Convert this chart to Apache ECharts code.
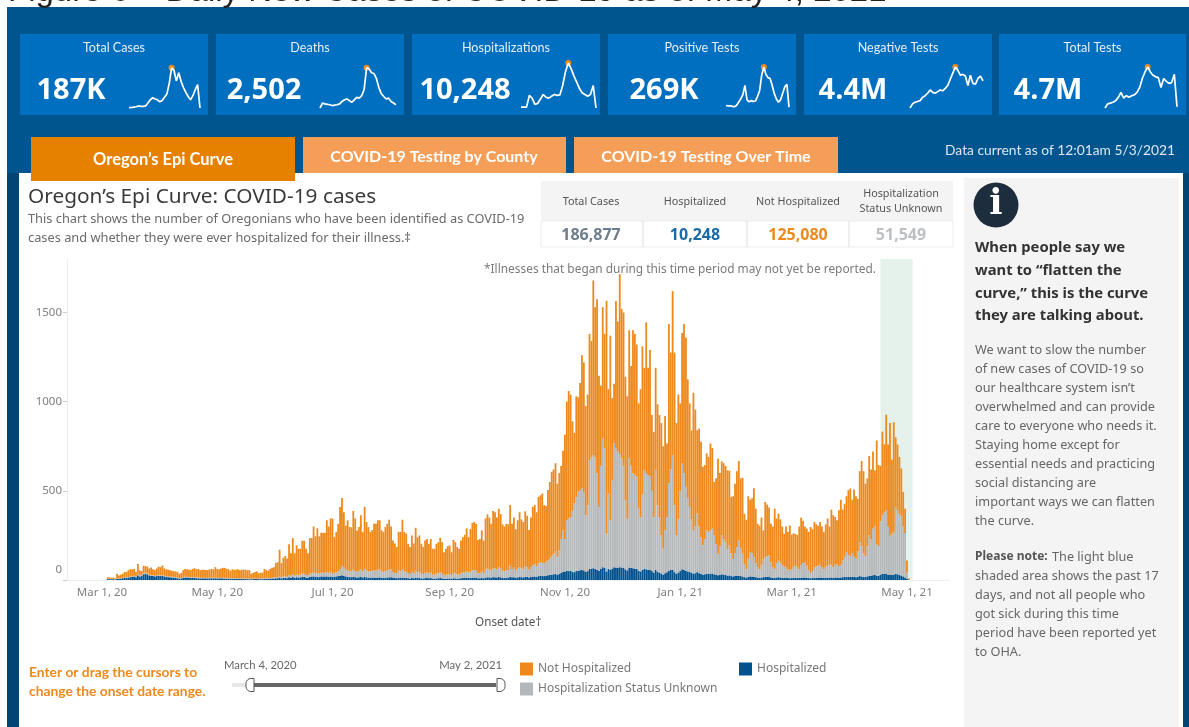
<!DOCTYPE html>
<html><head><meta charset="utf-8">
<style>html,body{margin:0;padding:0;background:#fff}#c{width:1189px;height:727px}</style>
<script src="https://cdn.jsdelivr.net/npm/echarts@6/dist/echarts.min.js"></script></head>
<body><div id="c"></div>
<script>
// ---- daily stacked tops, month by month (Mar 4 2020 - May 2 2021)
const allCases = [
 /*Mar20*/15,15,12,14,10,35,25,30,35,45,45,55,60,60,62,45,90,55,50,80,78,75,65,70,60,55,65,75,
 /*Apr20*/72,82,65,60,58,55,52,50,48,45,35,40,55,62,60,58,56,62,66,60,62,55,58,58,56,56,60,62,60,72,
 /*May20*/62,60,65,68,68,62,60,52,60,58,58,60,55,58,58,58,55,55,35,40,45,48,38,40,42,62,55,52,62,68,72,
 /*Jun20*/95,100,170,95,125,135,120,200,150,235,150,195,175,175,220,220,175,150,235,235,300,245,290,245,265,265,265,335,300,345,
 /*Jul20*/345,240,270,315,410,460,380,305,335,297,295,387,345,278,297,363,270,410,325,297,270,280,315,315,335,335,278,270,297,315,338,
 /*Aug20*/300,222,205,185,270,270,338,270,260,203,185,250,205,293,240,250,203,185,222,230,203,230,175,175,203,212,237,212,156,175,190,
 /*Sep20*/193,156,225,212,185,175,222,240,253,290,240,285,320,325,315,225,230,278,222,345,368,350,315,387,380,350,400,370,312,300,
 /*Oct20*/315,312,420,315,350,285,335,380,340,325,385,360,280,350,410,420,380,466,475,485,420,415,505,550,607,620,655,540,600,640,725,
 /*Nov20*/815,1000,1060,1040,890,825,1030,1025,1105,1260,1220,975,1040,1380,1340,1680,1530,1575,1145,1090,1530,1380,1565,1070,1370,1020,1100,1565,1450,1715,
 /*Dec20*/1520,1500,1140,1030,1400,1200,1400,1380,1320,990,1070,1310,1190,1445,1190,1290,925,830,1190,985,925,880,750,920,765,1435,1275,1620,1275,880,1040,
 /*Jan21*/990,1385,1435,1360,1125,990,838,1050,955,840,850,775,635,645,710,690,765,740,550,570,680,600,665,655,640,615,613,466,470,540,610,
 /*Feb21*/667,570,573,372,338,470,450,458,515,400,315,305,350,278,438,423,406,316,300,400,344,372,340,300,260,300,270,306,
 /*Mar21*/255,262,258,252,300,350,332,300,288,270,297,285,325,312,305,325,300,270,312,345,300,395,363,353,335,391,450,395,428,470,504,
 /*Apr21*/513,450,507,470,455,610,667,610,540,570,695,620,720,615,782,645,640,832,760,927,760,880,675,885,800,760,690,626,494,400,
 /*May21*/109,10];
const hospitalizedOrUnknown = [
 6,6,5,6,4,8,8,10,12,14,15,16,20,22,24,20,35,25,26,38,40,38,30,28,26,24,26,28,
 26,28,24,22,20,20,18,18,16,14,10,12,16,18,18,16,14,16,16,14,14,12,12,14,12,12,12,14,12,14,
 12,12,13,12,12,10,10,8,10,10,10,10,9,9,9,9,8,8,6,7,8,8,7,7,8,10,10,9,10,12,14,
 15,16,22,16,20,22,18,28,24,32,24,30,28,30,36,35,28,26,36,38,42,40,38,36,40,42,40,44,40,46,
 34,40,42,50,62,77,70,58,52,50,48,58,50,46,52,60,48,62,54,50,48,50,54,52,58,60,48,46,50,54,58,
 60,44,40,38,52,50,60,48,46,38,34,46,38,52,44,46,36,34,40,42,38,42,30,30,36,38,42,36,26,30,32,
 34,26,40,36,32,30,38,42,44,50,42,48,54,56,52,38,40,48,38,58,64,60,54,66,64,60,72,64,52,50,
 54,56,80,62,68,54,64,72,66,62,76,72,58,70,82,88,76,94,100,96,92,104,110,120,135,147,160,130,165,230,278,
 230,335,345,353,390,430,465,495,505,513,490,362,420,673,690,700,690,600,410,640,795,740,260,485,335,560,767,740,720,705,
 682,640,447,344,682,640,598,590,580,400,353,480,617,600,588,580,500,353,617,420,353,250,175,280,353,541,620,700,420,250,344,
 500,654,600,522,460,410,340,278,300,372,300,240,194,230,278,270,280,288,250,200,147,190,250,230,212,175,194,150,118,150,184,
 222,180,147,90,60,120,156,150,130,95,70,60,85,115,128,132,137,100,72,60,95,109,100,85,75,70,60,53,
 60,75,80,70,60,85,95,100,80,55,40,50,70,78,80,86,70,60,75,80,88,85,72,85,88,78,85,110,130,156,140,
 135,150,130,120,160,212,190,150,135,190,250,230,288,300,200,190,330,363,380,391,300,250,260,270,410,390,372,360,300,260,
 40,4];
const hospitalized = [
 5,5,4,5,3,6,6,8,10,12,12,14,16,18,20,15,26,20,22,32,34,32,26,24,22,20,22,24,
 22,24,20,18,16,16,14,14,12,10,8,9,13,14,14,12,11,12,12,10,10,9,9,10,9,9,9,10,9,10,
 9,9,10,8,8,7,7,6,7,7,7,7,6,6,6,6,5,5,4,5,5,5,5,5,5,7,7,6,7,8,9,
 10,10,14,9,12,12,10,15,13,17,12,16,14,15,18,18,14,12,18,20,20,19,18,16,20,20,19,20,18,20,
 18,18,20,22,24,26,24,20,18,16,16,18,16,14,15,17,14,17,15,14,13,14,14,13,14,15,12,12,13,14,15,
 15,12,11,10,13,12,14,12,11,10,9,12,10,13,11,12,9,9,10,11,10,11,8,8,9,10,11,9,7,8,8,
 9,7,10,9,8,8,10,11,11,13,11,12,13,14,13,10,10,12,10,14,15,15,13,16,15,14,17,15,12,12,
 13,14,18,15,16,13,15,17,16,15,18,17,14,17,19,20,18,22,24,22,22,24,26,28,30,32,34,28,34,40,46,
 48,52,50,52,46,44,50,52,54,56,54,46,50,62,64,66,62,58,50,62,72,68,48,62,56,64,72,70,68,72,
 70,68,60,54,70,68,66,64,62,52,48,56,62,60,58,56,50,42,56,46,42,36,30,38,44,52,56,58,44,36,42,
 50,60,58,52,48,46,40,36,38,44,38,34,30,32,36,35,36,36,32,30,26,28,32,30,28,24,26,22,20,22,24,
 24,22,20,16,14,18,20,20,18,16,14,12,14,16,18,18,18,14,12,12,14,16,14,13,12,12,11,10,
 11,12,13,12,11,13,14,14,13,11,10,11,12,13,13,14,12,11,12,13,14,14,13,14,14,13,14,16,17,18,17,
 17,18,17,16,18,22,20,18,17,20,24,22,26,28,24,24,30,34,34,36,30,28,28,30,34,32,28,24,20,14,
 6,2];
const tickDates = ['2020-03-01','2020-05-01','2020-07-01','2020-09-01','2020-11-01','2021-01-01','2021-03-01','2021-05-01'];
const tickLabels = ['Mar 1, 20','May 1, 20','Jul 1, 20','Sep 1, 20','Nov 1, 20','Jan 1, 21','Mar 1, 21','May 1, 21'];
const yTicks = [0,500,1000,1500];
const recentFrom = '2021-04-17', recentTo = '2021-05-04';

// ---- sparkline shapes (relative height 0-100)
const sparkCases = [1,1,2,3,5,4,4,5,12,20,25,22,20,15,18,26,34,60,98,92,66,86,65,50,38,28,20,30,45,57,0];
const sparkDeaths = [0,12,10,9,8,6,7,8,10,16,20,22,18,14,20,26,24,30,45,98,96,86,84,72,50,35,28,22,24,16,12,8];
const sparkHosp = [2,2,2,28,22,8,10,20,30,24,22,26,30,28,29,50,80,100,88,72,58,44,34,30,26,30,50,0];
const sparkPos = [6,5,5,4,3,6,14,22,32,55,20,15,18,16,17,28,42,80,100,82,74,72,55,35,22,14,20,36,52,58,2];
const sparkNeg = [0,10,14,16,18,26,30,36,44,38,36,40,44,42,48,55,70,85,100,92,80,82,78,55,80,60,58,72,78,66];
const sparkTests = [0,10,12,14,18,26,38,24,30,26,30,32,38,50,72,88,100,88,80,76,74,50,72,65,60,62,82,3];

const cardTitles = ['Total Cases','Deaths','Hospitalizations','Positive Tests','Negative Tests','Total Tests'];
const cardValues = ['187K','2,502','10,248','269K','4.4M','4.7M'];
const sparks = [sparkCases,sparkDeaths,sparkHosp,sparkPos,sparkNeg,sparkTests];
const tabLabels = ["Oregon’s Epi Curve",'COVID-19 Testing by County','COVID-19 Testing Over Time'];
const tableHeads = [['Total Cases'],['Hospitalized'],['Not Hospitalized'],['Hospitalization','Status Unknown']];
const tableValues = ['186,877','10,248','125,080','51,549'];
const legendNames = ['Not Hospitalized','Hospitalization Status Unknown','Hospitalized'];
const sideHead = ['When people say we','want to “flatten the','curve,” this is the curve','they are talking about.'];
const sideBody = ['We want to slow the number','of new cases of COVID-19 so','our healthcare system isn’t','overwhelmed and can provide','care to everyone who needs it.','Staying home except for','essential needs and practicing','social distancing are','important ways we can flatten','the curve.'];
const sideNote = ['days, and not all people who','got sick during this time','period have been reported yet','to OHA.'];

// ---- layout
const F = '"Noto Sans", sans-serif', FB = 'Lato, "Noto Sans", sans-serif';
const ORANGE='#EE8A1D', GREY='#B5B8BA', BLUE='#00528F', NAVY='#00558F', DARK='#004574', CARD='#006FBF';
const cardBox = [[20,208],[216,404],[412,600],[608,796],[804,992],[999,1186]];
const valueX = [71,264,465,664,853,1048];
const sparkBox = [[129,200,67],[320,396,67],[521,596,63],[726,789,67],[910,983,67],[1105,1177,67]];

// days on the category axis
const days=[]; {const d=new Date(Date.UTC(2020,1,12)); for(let i=0;i<467;i++){days.push(d.toISOString().slice(0,10)); d.setUTCDate(d.getUTCDate()+1);} }
const startIdx = days.indexOf('2020-03-04');
const pad = a => days.map((_,i)=> (i>=startIdx && i-startIdx<a.length) ? a[i-startIdx] : null);
const notHospitalized = allCases.map((v,i)=>Math.max(0,v-hospitalizedOrUnknown[i]));
const unknown = hospitalizedOrUnknown.map((v,i)=>v-hospitalized[i]);

const T=(x,y,text,size,fill,opt={})=>({type:'text',x,y,silent:true,z:opt.z||5,style:{text,fill,font:`${opt.weight||'normal'} ${size}px ${opt.font||F}`,align:opt.align||'left',verticalAlign:'middle'}});
const R=(x,y,w,h,fill,z=1,extra={},r=0)=>({type:'rect',silent:true,z,shape:{x,y,width:w,height:h,r},style:Object.assign({fill},extra)});
const L=(x1,y1,x2,y2,stroke,lineWidth=1,z=3)=>({type:'line',silent:true,z,shape:{x1,y1,x2,y2},style:{stroke,lineWidth}});

const g=[];
g.push(T(8,-8.5,'Figure 6 – Daily New Cases of COVID-19 as of May 4, 2021',33,'#222',{font:'"Liberation Sans",sans-serif',z:0}));
g.push(R(7,7,1182,166,NAVY,1));
g.push(R(7,173,12,554,DARK,1));
g.push(R(1183,173,6,554,DARK,1));
cardBox.forEach((b,i)=>{
  g.push(R(b[0],34,b[1]-b[0],81,CARD,2));
  g.push(T((b[0]+b[1])/2,47.5,cardTitles[i],12.6,'#E4EEF7',{align:'center',font:FB}));
  g.push(T(valueX[i],91,cardValues[i],29,'#fff',{align:'center',weight:'bold',font:'"Open Sans",sans-serif'}));
});
g.push(R(31,137,264,44,'#E68100',3));
g.push(R(303,137,263,36,'#F59E58',2));
g.push(R(574,137,264,36,'#F59E58',2));
g.push(T(163,160,tabLabels[0],16.5,'#fff',{align:'center',weight:'bold',font:FB,z:4}));
g.push(T(434,157,tabLabels[1],16,'#fff',{align:'center',weight:'bold',font:FB,z:4}));
g.push(T(706,157,tabLabels[2],16,'#fff',{align:'center',weight:'bold',font:FB,z:4}));
g.push(T(1060,151,'Data current as of 12:01am 5/3/2021',13.8,'#DCE7F1',{align:'center',font:FB}));
// headline
g.push(T(28,197,'Oregon’s Epi Curve: COVID-19 cases',20.8,'#3A3A3A'));
g.push(T(28,219,'This chart shows the number of Oregonians who have been identified as COVID-19',12.8,'#6A6A6A'));
g.push(T(28,238,'cases and whether they were ever hospitalized for their illness.‡',12.8,'#6A6A6A'));
// table
g.push(R(541,181,412,40,'#F4F4F4',2));
g.push(R(541,221,412,26,'#fff',2,{stroke:'#EDEDED',lineWidth:1}));
[643,747,849].forEach(x=>g.push(L(x,221,x,247,'#DDDDDD')));
const colX=[591,695,798,901], colC=['#6E7D8C','#1B6AA5','#EE8A1D','#BDC0C2'];
tableHeads.forEach((h,i)=>{
  if(h.length===1) g.push(T(colX[i],202,h[0],10.8,'#555',{align:'center'}));
  else { g.push(T(colX[i],194,h[0],10.8,'#555',{align:'center'})); g.push(T(colX[i],209,h[1],10.8,'#555',{align:'center'})); }
  g.push(T(colX[i],235,tableValues[i],16,colC[i],{align:'center',weight:'bold'}));
});
g.push(T(876,270,'*Illnesses that began during this time period may not yet be reported.',11.9,'#7A7A7A',{align:'right',z:6}));
// side panel
g.push(R(964,178,215,549,'#F4F4F4',1));
g.push({type:'circle',silent:true,z:3,shape:{cx:996,cy:205,r:22.5},style:{fill:'#1E2D3D'}});
g.push(T(996,205,'i',35,'#fff',{align:'center',weight:'bold',font:'"DejaVu Serif",serif',z:4}));
sideHead.forEach((t,i)=>g.push(T(975,248+i*22.7,t,14.8,'#333',{weight:'bold'})));
sideBody.forEach((t,i)=>g.push(T(975,350+i*19,t,12.7,'#666')));
g.push(T(975,557,'Please note:',12,'#555',{weight:'bold'}));
g.push(T(1052,557,'The light blue',12.7,'#666'));
g.push(T(975,576,'shaded area shows the past 17',12.7,'#666'));
sideNote.forEach((t,i)=>g.push(T(975,595+i*19,t,12.7,'#666')));
// footer
g.push(T(29,673,'Enter or drag the cursors to',13.8,'#EE8A1D',{weight:'bold',font:FB}));
g.push(T(29,692,'change the onset date range.',13.8,'#EE8A1D',{weight:'bold',font:FB}));
g.push(T(224,665,'March 4, 2020',11.3,'#666',{font:FB}));
g.push(T(502,665,'May 2, 2021',11.3,'#666',{align:'right',font:FB}));
g.push(R(232,683,18,4,'#E6E6E6',2));
g.push(R(253,683,243,4,'#666',2));
g.push(R(246,678.5,8,13,'#fff',3,{stroke:'#555',lineWidth:1},[5,0,0,5]));
g.push(R(497,678.5,8,13,'#fff',3,{stroke:'#555',lineWidth:1},[0,5,5,0]));

// series, grids
const mainGrid={left:67,top:259,width:882.5,height:321};
const grids=[mainGrid], xA=[{
  type:'category',data:days,gridIndex:0,boundaryGap:true,
  name:'Onset date†',nameLocation:'middle',nameGap:37,nameTextStyle:{color:'#555',fontSize:11.7,fontFamily:F},
  axisLine:{lineStyle:{color:'#EEEEEE'}},
  axisTick:{alignWithLabel:true,length:5,lineStyle:{color:'#CCCCCC'},interval:(i,v)=>tickDates.includes(v)},
  axisLabel:{color:'#808080',fontSize:11.5,fontFamily:F,margin:7,interval:(i,v)=>tickDates.includes(v),
    formatter:v=>tickLabels[tickDates.indexOf(v)]||''},
  splitLine:{show:false}
}], yA=[{
  type:'value',gridIndex:0,min:0,max:1800,
  axisLine:{show:true,lineStyle:{color:'#EEEEEE'}},
  axisTick:{show:true,length:4,lineStyle:{color:'#CCCCCC'},customValues:yTicks},
  axisLabel:{color:'#808080',fontSize:11.5,fontFamily:F,margin:5,customValues:yTicks,verticalAlignMinLabel:'bottom',
    formatter:v=>v===0?'{z|0}':String(v),rich:{z:{color:'#808080',fontSize:11.5,fontFamily:F,padding:[0,0,4,0]}}},
  splitLine:{show:false}
}];
const barBase={type:'bar',stack:'c',xAxisIndex:0,yAxisIndex:0,barWidth:1.82,animation:false,silent:true,z:3};
const series=[
 Object.assign({},barBase,{name:'Hospitalized',data:pad(hospitalized),itemStyle:{color:BLUE}}),
 Object.assign({},barBase,{name:'Hospitalization Status Unknown',data:pad(unknown),itemStyle:{color:GREY}}),
 Object.assign({},barBase,{name:'Not Hospitalized',data:pad(notHospitalized),itemStyle:{color:ORANGE}})
];
sparkBox.forEach((b,i)=>{
  const n=i+1, h=(i===2?45:41);
  grids.push({left:b[0],top:b[2],width:b[1]-b[0],height:h});
  xA.push({type:'category',gridIndex:n,show:false,boundaryGap:false,data:sparks[i].map((_,k)=>k)});
  yA.push({type:'value',gridIndex:n,show:false,min:0,max:100});
  series.push({type:'line',xAxisIndex:n,yAxisIndex:n,data:sparks[i],showSymbol:false,animation:false,silent:true,z:6,
    lineStyle:{color:'#fff',width:1.7},
    markPoint:{silent:true,symbol:'circle',symbolSize:6,animation:false,itemStyle:{color:'#EE8A1D'},label:{show:false},data:[{type:'max'}]}});
});
// shaded "recent days" band: same plot box as the bars, on a hidden day-index axis
const bandGrid=grids.length;
grids.push(Object.assign({},mainGrid));
xA.push({type:'value',gridIndex:bandGrid,show:false,min:0,max:days.length});
yA.push({type:'value',gridIndex:bandGrid,show:false,min:0,max:1800});
series.push({type:'line',name:'Recent onset dates',xAxisIndex:bandGrid,yAxisIndex:bandGrid,data:[],silent:true,animation:false,z:1,
  markArea:{silent:true,z:1,itemStyle:{color:'#E4F2EB'},data:[[{xAxis:days.indexOf(recentFrom)+0.5},{xAxis:days.indexOf(recentTo)+0.5}]]}});
const legBase={orient:'vertical',icon:'rect',itemWidth:13,itemHeight:13,padding:0,selectedMode:false,textStyle:{color:'#777',fontSize:12,fontFamily:F}};
const chart=echarts.init(document.getElementById('c'));
chart.setOption({
  animation:false,backgroundColor:'#fff',
  grid:grids,xAxis:xA,yAxis:yA,series,graphic:{elements:g},
  legend:[
    Object.assign({},legBase,{left:520,top:662.5,data:[legendNames[0]]}),
    Object.assign({},legBase,{left:520,top:682.5,data:[legendNames[1]]}),
    Object.assign({},legBase,{left:739,top:662.5,data:[legendNames[2]]})
  ]
});
</script></body></html>
